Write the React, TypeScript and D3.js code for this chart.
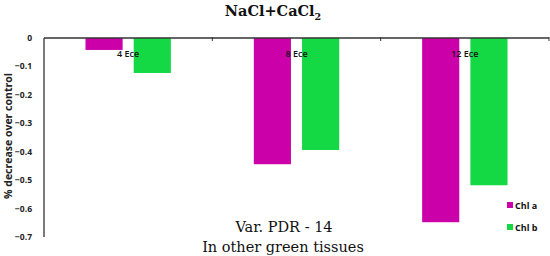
import React, { useRef, useEffect } from 'react';
import * as d3 from 'd3';

const categories = ['4 Ece', '8 Ece', '12 Ece'];
const chlA = [-0.042, -0.444, -0.648];
const chlB = [-0.123, -0.394, -0.518];
const seriesNames = ['Chl a', 'Chl b'];
const yTicks = [0, -0.1, -0.2, -0.3, -0.4, -0.5, -0.6, -0.7];

const colors = ['#CC00A8', '#14D944'];

const App = () => {
  const svgRef = useRef<SVGSVGElement>(null);

  useEffect(() => {
    const width = 550;
    const height = 256;
    const left = 44;
    const right = 549;
    const top = 38;
    const bottom = 237;

    const svg = d3.select(svgRef.current)
      .attr('width', width)
      .attr('height', height)
      .style('position', 'absolute')
      .style('left', '0px')
      .style('top', '0px')
      .style('background', '#fff');

    svg.selectAll('*').remove();

    const x = d3.scaleBand().domain(categories).range([left, right]).padding(0);
    const x1 = d3.scaleBand().domain(seriesNames).range([0, x.bandwidth()]).paddingInner(0.23).paddingOuter(0.86);
    const y = d3.scaleLinear().domain([0, -0.7]).range([top, bottom]);

    // bars
    const data = categories.map((c, i) => ({ c, vals: [chlA[i], chlB[i]] }));
    const g = svg.append('g');
    data.forEach((d) => {
      d.vals.forEach((v, j) => {
        g.append('rect')
          .attr('x', (x(d.c) as number) + (x1(seriesNames[j]) as number))
          .attr('y', y(0))
          .attr('width', x1.bandwidth())
          .attr('height', y(v) - y(0))
          .attr('fill', colors[j]);
      });
    });

    // y axis
    svg.append('line')
      .attr('x1', left).attr('x2', left)
      .attr('y1', top).attr('y2', bottom)
      .attr('stroke', '#333').attr('stroke-width', 1.3);

    svg.append('g')
      .selectAll('text')
      .data(yTicks)
      .enter()
      .append('text')
      .attr('x', 32)
      .attr('y', (d) => y(d) + 3)
      .attr('text-anchor', 'end')
      .style('font-family', '"Open Sans", sans-serif')
      .style('font-size', '8.5px')
      .style('font-weight', 'bold')
      .attr('fill', '#222')
      .text((d) => (d === 0 ? '0' : d3.format('.1f')(d)));

    // x axis at zero
    svg.append('line')
      .attr('x1', left).attr('x2', right)
      .attr('y1', y(0)).attr('y2', y(0))
      .attr('stroke', '#333').attr('stroke-width', 1.3);

    const tickXs = categories.map((c) => (x(c) as number) + x.bandwidth());
    svg.append('g')
      .selectAll('line')
      .data(tickXs)
      .enter()
      .append('line')
      .attr('x1', (d) => d).attr('x2', (d) => d)
      .attr('y1', y(0) - 1).attr('y2', y(0) + 3)
      .attr('stroke', '#333').attr('stroke-width', 1);

    // category labels
    svg.append('g')
      .selectAll('text')
      .data(categories)
      .enter()
      .append('text')
      .attr('x', (d) => (x(d) as number) + x.bandwidth() / 2)
      .attr('y', 57)
      .attr('text-anchor', 'middle')
      .style('font-family', '"Open Sans", sans-serif')
      .style('font-size', '9px')
      .style('font-weight', '600')
      .attr('fill', '#111')
      .text((d) => d);

    // title
    const title = svg.append('text')
      .attr('x', 273)
      .attr('y', 16)
      .attr('text-anchor', 'middle')
      .style('font-family', '"DejaVu Serif", serif')
      .style('font-size', '14.5px')
      .style('font-weight', 'bold')
      .attr('fill', '#111');
    title.append('tspan').text('NaCl+CaCl');
    title.append('tspan').attr('dy', 4).style('font-size', '9.5px').text('2');

    // y axis title
    svg.append('text')
      .attr('transform', `translate(12, 136) rotate(-90)`)
      .attr('text-anchor', 'middle')
      .style('font-family', '"Open Sans", sans-serif')
      .style('font-size', '10.5px')
      .style('font-weight', 'bold')
      .attr('fill', '#222')
      .text('% decrease over control');

    // annotation
    svg.append('text')
      .attr('x', 284)
      .attr('y', 232)
      .attr('text-anchor', 'middle')
      .style('font-family', '"DejaVu Serif", serif')
      .style('font-size', '14.5px')
      .attr('fill', '#111')
      .text('Var. PDR - 14');
    svg.append('text')
      .attr('x', 283)
      .attr('y', 252)
      .attr('text-anchor', 'middle')
      .style('font-family', '"DejaVu Serif", serif')
      .style('font-size', '14.5px')
      .attr('fill', '#111')
      .text('In other green tissues');

    // legend
    const legend = svg.append('g');
    seriesNames.forEach((s, i) => {
      const ly = 205 + i * 22;
      legend.append('rect')
        .attr('x', 507).attr('y', ly - 3)
        .attr('width', 6).attr('height', 6)
        .attr('fill', colors[i]);
      legend.append('text')
        .attr('x', 515).attr('y', ly + 3.5)
        .style('font-family', '"Liberation Sans Narrow", "Open Sans", sans-serif')
        .style('font-size', '9px')
        .style('font-weight', 'bold')
        .attr('fill', '#111')
        .text(s);
    });
  }, []);

  return <svg ref={svgRef}></svg>;
};

export default App;
